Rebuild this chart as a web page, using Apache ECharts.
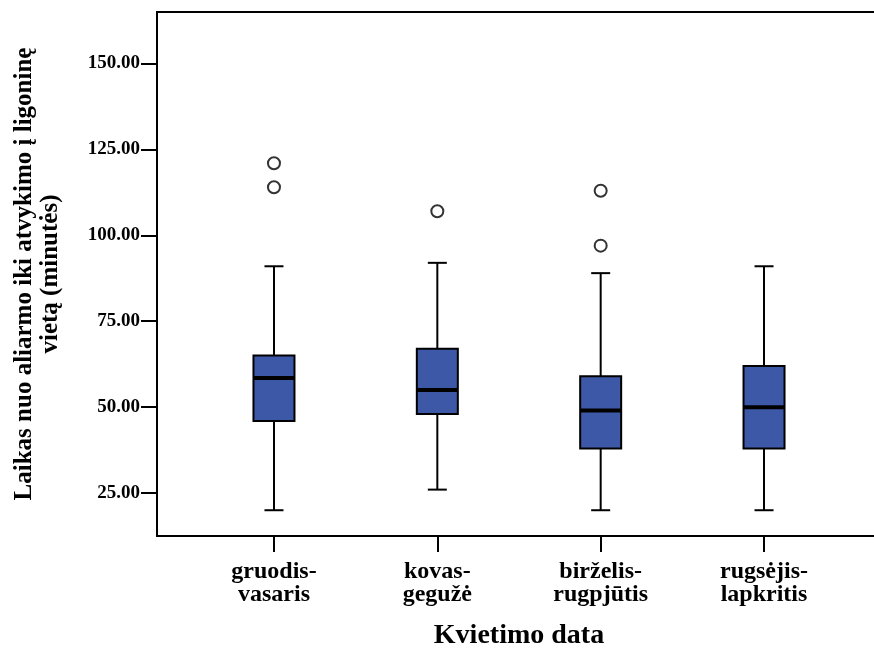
<!DOCTYPE html>
<html>
<head>
<meta charset="utf-8">
<script src="https://cdn.jsdelivr.net/npm/echarts@6/dist/echarts.min.js"></script>
<style>html,body{margin:0;padding:0;background:#fff;}#c{width:874px;height:650px;}</style>
</head>
<body>
<div id="c"></div>
<script>
const categories = ['gruodis-\nvasaris', 'kovas-\ngegužė', 'birželis-\nrugpjūtis', 'rugsėjis-\nlapkritis'];
const whiskerLow = [20, 26, 20, 20];
const q1 = [46, 48, 38, 38];
const median = [58.5, 55, 49, 50];
const q3 = [65, 67, 59, 62];
const whiskerHigh = [91, 92, 89, 91];
const outliers = [[0, 121], [0, 114], [1, 107], [2, 113], [2, 97]];
const yTicks = [25, 50, 75, 100, 125, 150];
const yMin = 12.5, yMax = 165;

const FONT = "'Liberation Serif', 'Times New Roman', serif";
const boxData = categories.map((c, i) => [i, whiskerLow[i], q1[i], median[i], q3[i], whiskerHigh[i]]);

const chart = echarts.init(document.getElementById('c'), null, {renderer: 'canvas'});
chart.setOption({
  backgroundColor: '#fff',
  animation: false,
  grid: [
    {left: 157, right: -6, top: 12, bottom: 114, show: true, borderColor: '#000', borderWidth: 2,
     backgroundColor: 'transparent', containLabel: false, outerBoundsMode: 'none'},
    {left: 192.3, right: 28.3, top: 12, bottom: 114, containLabel: false, outerBoundsMode: 'none'}
  ],
  xAxis: [
    {gridIndex: 0, type: 'value', min: 0, max: 1, show: false},
    {gridIndex: 1, type: 'category', data: categories,
     axisLine: {show: false},
     axisTick: {show: true, alignWithLabel: true, length: 16, lineStyle: {color: '#000', width: 2}},
     axisLabel: {color: '#000', fontFamily: FONT, fontWeight: 'bold', fontSize: 24, lineHeight: 23, margin: 24},
     name: 'Kvietimo data', nameLocation: 'middle', nameGap: 86,
     nameTextStyle: {color: '#000', fontFamily: FONT, fontWeight: 'bold', fontSize: 28}
    }
  ],
  yAxis: [
    {gridIndex: 0, type: 'value', min: yMin, max: yMax,
     splitLine: {show: false},
     axisLine: {show: false},
     axisTick: {show: true, length: 16, customValues: yTicks, lineStyle: {color: '#000', width: 2}},
     axisLabel: {customValues: yTicks, formatter: v => v.toFixed(2), color: '#000', fontFamily: FONT, fontWeight: 'bold', fontSize: 19, margin: 17},
     name: 'Laikas nuo aliarmo iki atvykimo į ligoninę\nvietą (minutės)', nameLocation: 'middle', nameGap: 93,
     nameTextStyle: {color: '#000', fontFamily: FONT, fontWeight: 'bold', fontSize: 25, lineHeight: 26}
    },
    {gridIndex: 1, type: 'value', min: yMin, max: yMax, show: false, splitLine: {show: false}}
  ],
  series: [
    {
      type: 'custom', xAxisIndex: 1, yAxisIndex: 1, data: boxData,
      renderItem: function (params, api) {
        const x = api.value(0);
        const pLow = api.coord([x, api.value(1)]);
        const pQ1 = api.coord([x, api.value(2)]);
        const pMed = api.coord([x, api.value(3)]);
        const pQ3 = api.coord([x, api.value(4)]);
        const pHigh = api.coord([x, api.value(5)]);
        const cx = pLow[0];
        const bw = 41, cw = 19;
        const ls = {stroke: '#000', lineWidth: 2, fill: null};
        return {
          type: 'group',
          children: [
            {type: 'line', shape: {x1: cx, y1: pLow[1], x2: cx, y2: pQ1[1]}, style: ls},
            {type: 'line', shape: {x1: cx, y1: pQ3[1], x2: cx, y2: pHigh[1]}, style: ls},
            {type: 'line', shape: {x1: cx - cw / 2, y1: pLow[1], x2: cx + cw / 2, y2: pLow[1]}, style: ls},
            {type: 'line', shape: {x1: cx - cw / 2, y1: pHigh[1], x2: cx + cw / 2, y2: pHigh[1]}, style: ls},
            {type: 'rect', shape: {x: cx - bw / 2, y: pQ3[1], width: bw, height: pQ1[1] - pQ3[1]},
             style: {fill: '#3e58a8', stroke: '#000', lineWidth: 2}},
            {type: 'line', shape: {x1: cx - bw / 2, y1: pMed[1], x2: cx + bw / 2, y2: pMed[1]},
             style: {stroke: '#000', lineWidth: 4}}
          ]
        };
      }
    },
    {
      type: 'scatter', xAxisIndex: 1, yAxisIndex: 1, data: outliers,
      symbol: 'circle', symbolSize: 12,
      itemStyle: {color: '#fff', borderColor: '#000', borderWidth: 2}
    }
  ]
});
</script>
</body>
</html>
